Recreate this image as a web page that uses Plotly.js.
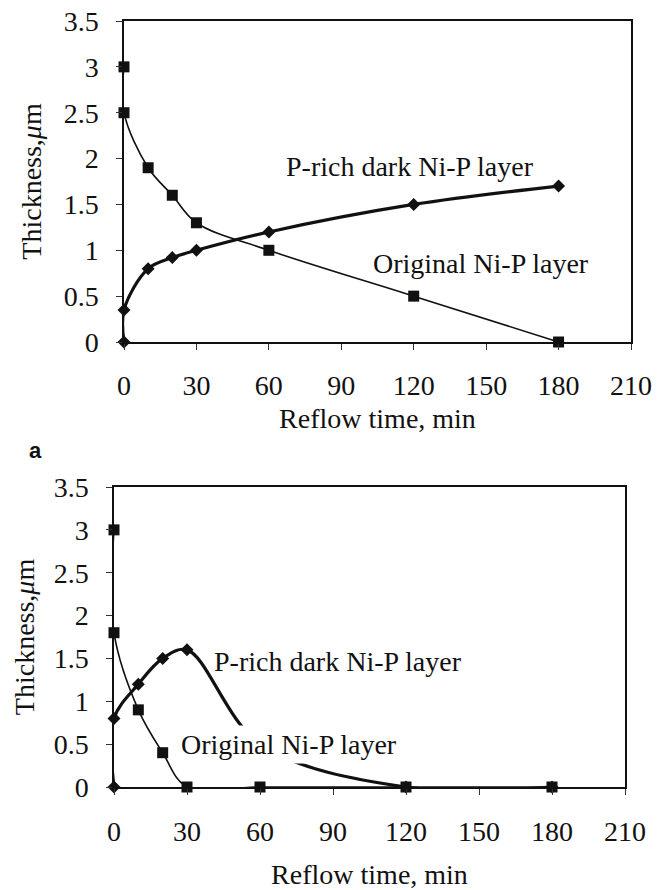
<!DOCTYPE html>
<html>
<head>
<meta charset="utf-8">
<script src="https://cdn.plot.ly/plotly-3.0.1.min.js"></script>
<style>
html,body{margin:0;padding:0;background:#fff;}
#chart{width:667px;height:890px;}
#chart svg text{font-family:'Liberation Serif',serif !important;}
#chart svg g.annotation[data-index="4"] text{font-family:'Liberation Sans',sans-serif !important;font-weight:bold !important;}
</style>
</head>
<body>
<div id="chart"></div>
<script>
// Panel 1 (top)
const topOrigX = [0, 0, 10, 20, 30, 60, 120, 180];
const topOrigY = [3.0, 2.5, 1.9, 1.6, 1.3, 1.0, 0.5, 0.0];
const topDarkX = [0, 0, 10, 20, 30, 60, 120, 180];
const topDarkY = [0.0, 0.35, 0.8, 0.92, 1.0, 1.2, 1.5, 1.7];
// Panel 2 (bottom)
const botOrigX = [0, 0, 10, 20, 30, 60, 120, 180];
const botOrigY = [3.0, 1.8, 0.9, 0.4, 0.0, 0.0, 0.0, 0.0];
const botDarkX = [0, 0, 10, 20, 30, 60, 120, 180];
const botDarkY = [0.0, 0.8, 1.2, 1.5, 1.6, 0.5, 0.0, 0.0];
const xTicks = [0, 30, 60, 90, 120, 150, 180, 210];
const yTicks = [0, 0.5, 1, 1.5, 2, 2.5, 3, 3.5];
const labelDark = "P-rich dark Ni-P layer";
const labelOrig = "Original Ni-P layer";
const xTitle = "Reflow time, min";
const yTitle = "Thickness,<i>μ</i>m";
const panelLabel = "a";

const FONT = "Liberation Serif";
function origTrace(x, y, xa, ya) {
  return {x: x, y: y, xaxis: xa, yaxis: ya, type: 'scatter', mode: 'lines+markers',
    line: {color: '#111', width: 1.6, shape: 'spline', smoothing: 1},
    marker: {symbol: 'square', size: 11, color: '#111'}, cliponaxis: false, showlegend: false};
}
function darkTrace(x, y, xa, ya) {
  return {x: x, y: y, xaxis: xa, yaxis: ya, type: 'scatter', mode: 'lines+markers',
    line: {color: '#111', width: 3.2, shape: 'spline', smoothing: 1},
    marker: {symbol: 'diamond', size: 10, color: '#111'}, cliponaxis: false, showlegend: false};
}
const data = [
  darkTrace(topDarkX, topDarkY, 'x', 'y'),
  origTrace(topOrigX, topOrigY, 'x', 'y'),
  darkTrace(botDarkX, botDarkY, 'x2', 'y2'),
  origTrace(botOrigX, botOrigY, 'x2', 'y2')
];
function xax(dom, anchor, standoff, tstand) {
  return {domain: dom, anchor: anchor, range: [0, 210], tickvals: xTicks, ticks: 'outside', ticklen: 6,
    tickcolor: '#333', showline: true, mirror: true, linecolor: '#111', linewidth: 1.6,
    showgrid: false, zeroline: false, ticklabelstandoff: standoff,
    tickfont: {family: FONT, size: 28, color: '#111'},
    title: {text: xTitle, font: {family: FONT, size: 28, color: '#111'}, standoff: tstand}};
}
function yax(dom, anchor, tstand) {
  return {domain: dom, anchor: anchor, range: [0, 3.5], tickvals: yTicks, ticks: 'outside', ticklen: 6,
    tickcolor: '#333', showline: true, mirror: true, linecolor: '#111', linewidth: 1.6,
    showgrid: false, zeroline: false, ticklabelstandoff: 12,
    tickfont: {family: FONT, size: 28, color: '#111'},
    title: {text: yTitle, font: {family: FONT, size: 28, color: '#111'}, standoff: tstand}};
}
const layout = {
  width: 667, height: 890, margin: {l: 0, r: 0, t: 0, b: 0},
  paper_bgcolor: '#fff', plot_bgcolor: '#fff', showlegend: false,
  xaxis: xax([124/667, 631/667], 'y', 12, 8),
  yaxis: yax([1 - 342/890, 1 - 21/890], 'x', 14),
  xaxis2: xax([114/667, 625/667], 'y2', 13, 20),
  yaxis2: yax([1 - 787/890, 1 - 487/890], 'x2', 11),
  annotations: [
    {text: labelDark, xref: 'x', yref: 'y', x: 118.3, y: 1.91, showarrow: false, xanchor: 'center', yanchor: 'middle',
      font: {family: FONT, size: 28, color: '#111'}},
    {text: labelOrig, xref: 'x', yref: 'y', x: 147.7, y: 0.86, showarrow: false, xanchor: 'center', yanchor: 'middle',
      font: {family: FONT, size: 28, color: '#111'}},
    {text: labelDark, xref: 'x2', yref: 'y2', x: 40.3, y: 1.46, showarrow: false, xanchor: 'left', yanchor: 'middle',
      font: {family: FONT, size: 28, color: '#111'}},
    {text: labelOrig, xref: 'x2', yref: 'y2', x: 26, y: 0.5, showarrow: false, xanchor: 'left', yanchor: 'middle',
      bgcolor: '#fff', borderpad: 3, font: {family: FONT, size: 28, color: '#111'}},
    {text: panelLabel, xref: 'paper', yref: 'paper', x: 35/667, y: 1 - 451/890, showarrow: false,
      xanchor: 'center', yanchor: 'middle', font: {family: 'Liberation Sans', weight: 'bold', size: 22, color: '#111'}}
  ]
};
Plotly.newPlot('chart', data, layout, {staticPlot: true, displayModeBar: false});
</script>
</body>
</html>
